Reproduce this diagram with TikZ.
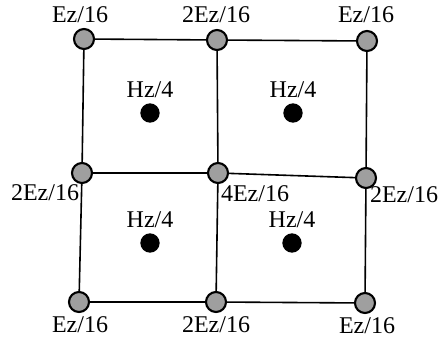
\documentclass[tikz,border=0pt]{standalone}
\usepackage{fontspec}
\setmainfont{Liberation Serif}
\usetikzlibrary{positioning}
\tikzset{
    ez_dot/.style={circle, draw, line width=1.6pt, fill=gray!75, minimum size=15pt, inner sep=0pt},
    hz_dot/.style={circle, fill=black, minimum size=14.5pt, inner sep=0pt},
    mesh_line/.style={line width=1.2pt},
    val_label/.style={font=\fontsize{18}{21}\selectfont, inner sep=0pt}
}
\begin{document}
\begin{tikzpicture}[x=0.75pt, y=-0.75pt]
            \useasboundingbox (0,0) rectangle (439,339);

            % Ez points (corners)
            \node (e11) at (84,39) [ez_dot] {};
            \node (e12) at (217,40) [ez_dot] {};
            \node (e13) at (367,41) [ez_dot] {};
            \node (e21) at (82,173) [ez_dot] {};
            \node (e22) at (218,173) [ez_dot] {};
            \node (e23) at (366,178) [ez_dot] {};
            \node (e31) at (79,302) [ez_dot] {};
            \node (e32) at (216,302) [ez_dot] {};
            \node (e33) at (365,303) [ez_dot] {};

            % Mesh lines
            \draw[mesh_line] (e11) -- (e12);
            \draw[mesh_line] (e12) -- (e13);
            \draw[mesh_line] (e21) -- (e22);
            \draw[mesh_line] (e22) -- (e23);
            \draw[mesh_line] (e31) -- (e32);
            \draw[mesh_line] (e32) -- (e33);
            \draw[mesh_line] (e11) -- (e21);
            \draw[mesh_line] (e21) -- (e31);
            \draw[mesh_line] (e12) -- (e22);
            \draw[mesh_line] (e22) -- (e32);
            \draw[mesh_line] (e13) -- (e23);
            \draw[mesh_line] (e23) -- (e33);

            % Hz points (cell centres)
            \node (h1) at (150,113) [hz_dot] {};
            \node (h2) at (293,113) [hz_dot] {};
            \node (h3) at (150,243) [hz_dot] {};
            \node (h4) at (292,243) [hz_dot] {};

            % Labels
            \node (t11) at (80,15) [val_label] {Ez/16};
            \node (t12) at (216,15) [val_label] {2Ez/16};
            \node (t13) at (366,15) [val_label] {Ez/16};
            \node (t21) at (45,193) [val_label] {2Ez/16};
            \node (t22) at (255,194) [val_label] {4Ez/16};
            \node (t23) at (404,195) [val_label] {2Ez/16};
            \node (t31) at (80,325) [val_label] {Ez/16};
            \node (t32) at (216,325) [val_label] {2Ez/16};
            \node (t33) at (367,326) [val_label] {Ez/16};
            \node (th1) [val_label, above=4pt of h1] {Hz/4};
            \node (th2) [val_label, above=4pt of h2] {Hz/4};
            \node (th3) [val_label, above=4pt of h3] {Hz/4};
            \node (th4) [val_label, above=4pt of h4] {Hz/4};
\end{tikzpicture}
\end{document}
